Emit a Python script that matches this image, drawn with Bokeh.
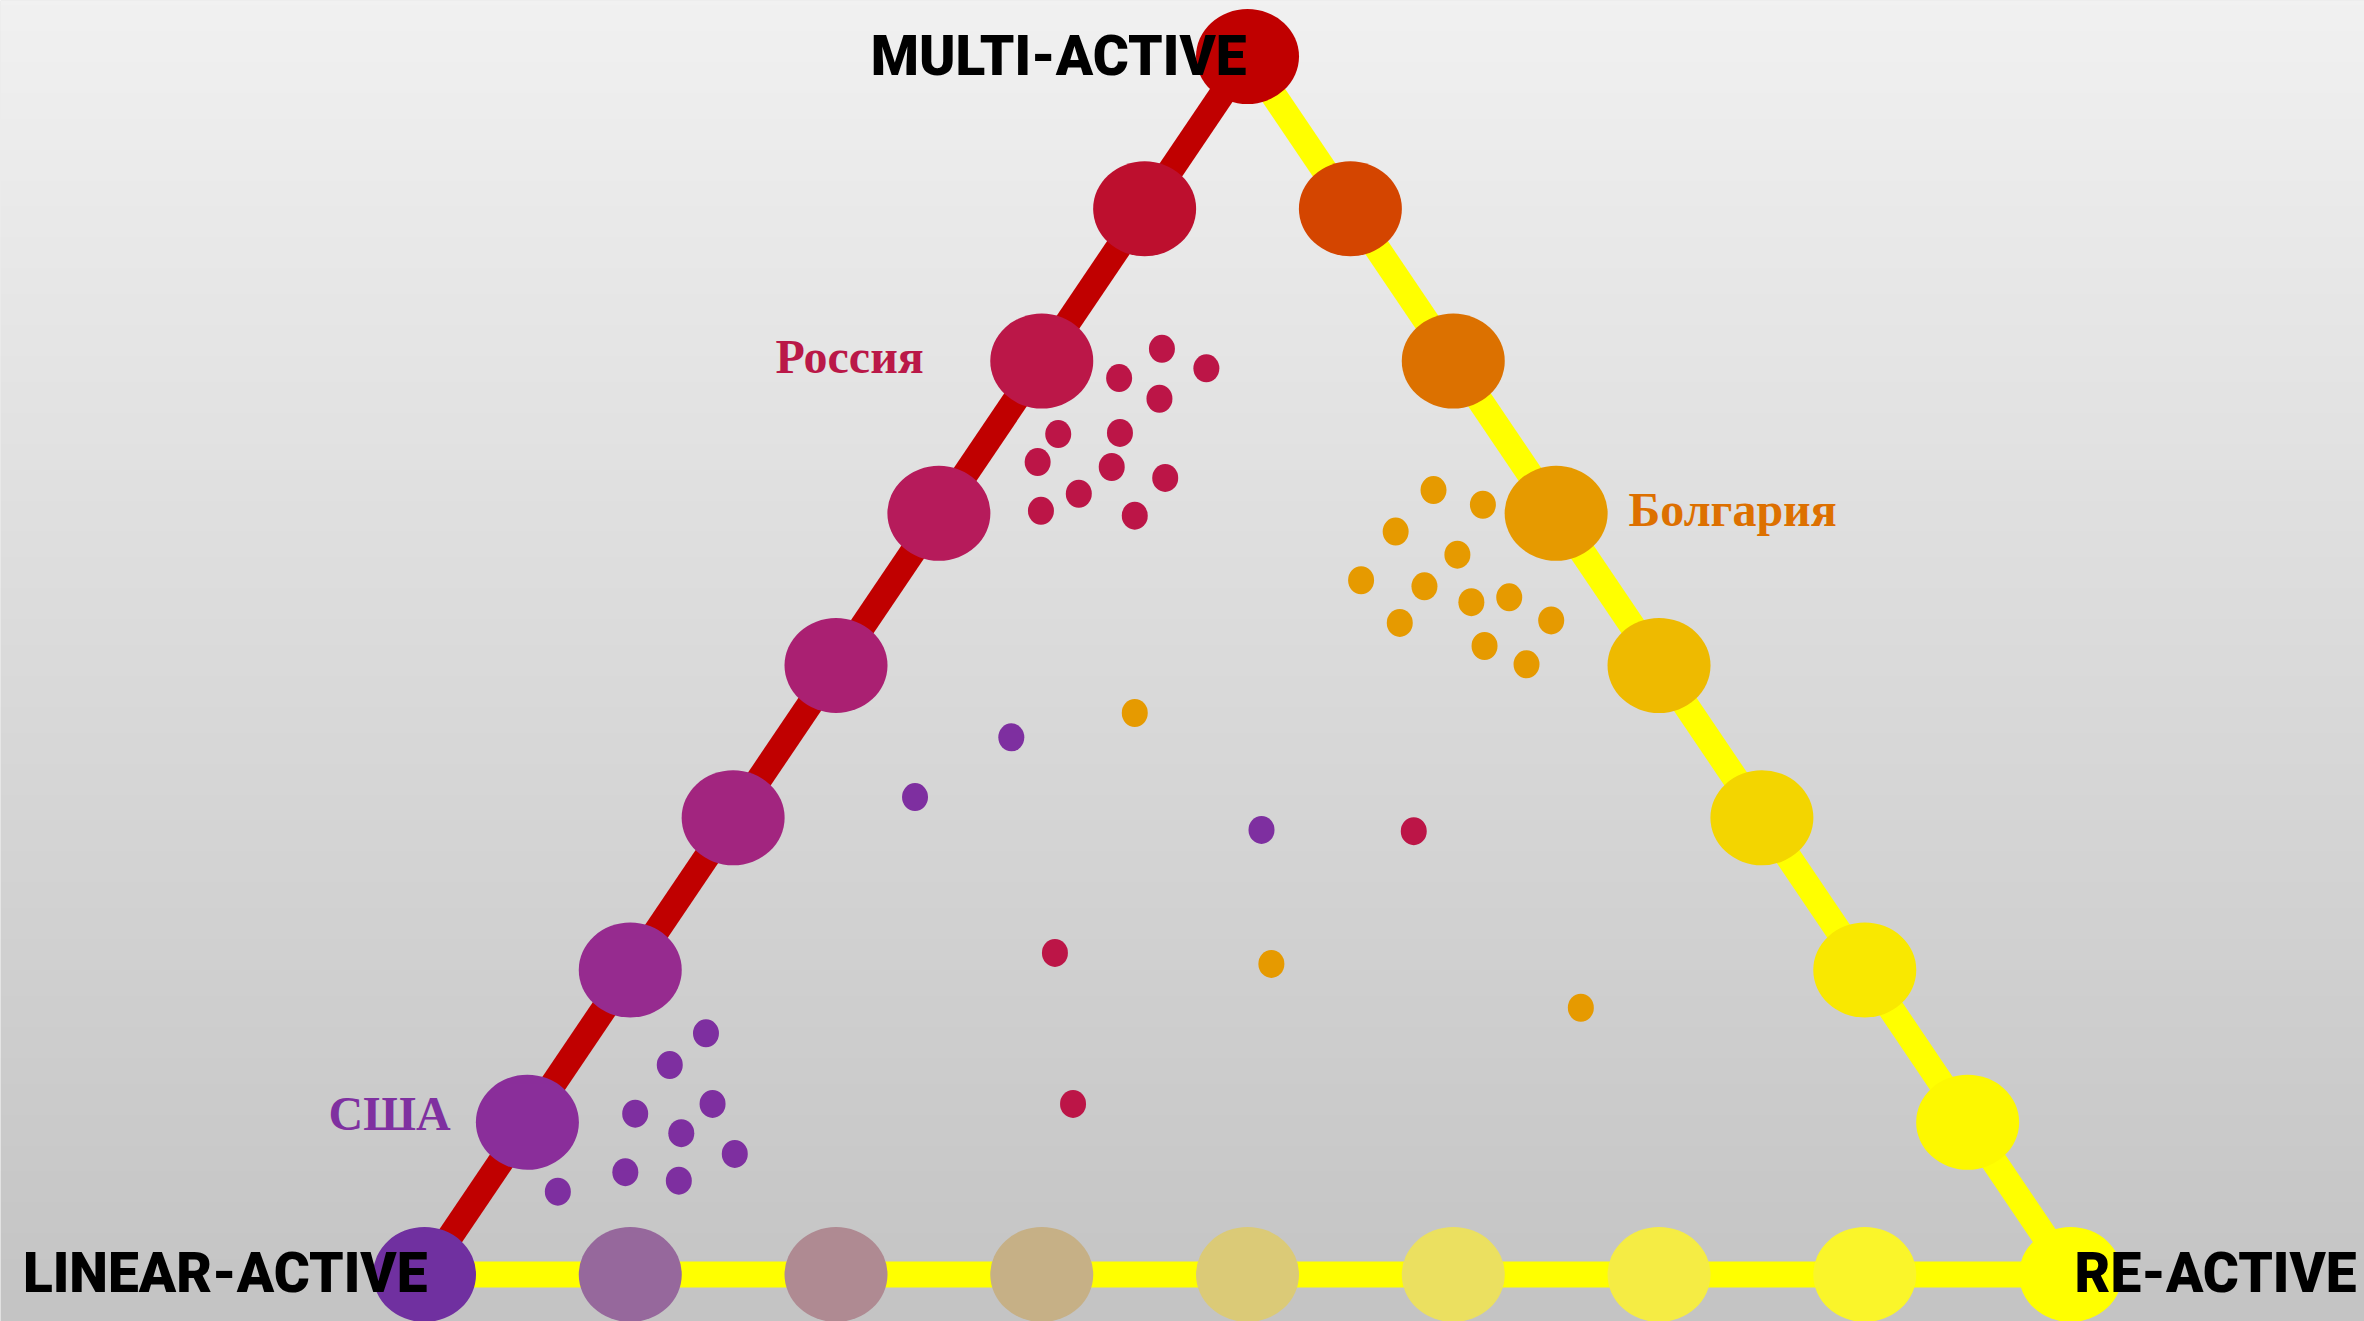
import numpy as np
from bokeh.plotting import figure
from bokeh.models import Range1d
from bokeh.core.properties import value
from bokeh.embed import file_html
from bokeh.resources import INLINE

# ---------------- data ----------------
corner_names = ["LINEAR-ACTIVE", "MULTI-ACTIVE", "RE-ACTIVE"]
steps = [0, 1, 2, 3, 4, 5, 6, 7, 8]          # scale marks per side (eighths)
# marker colours along each side
left_colors = ["#7030A0", "#8A2E9A", "#962B8F", "#A2257F", "#AA2072",
               "#B61B5B", "#BB1748", "#BD0F2E", "#C00000"]      # linear -> multi
right_colors = ["#C00000", "#D44500", "#DC7100", "#E69A00", "#EEBA00",
                "#F3D500", "#F9E800", "#FDF800", "#FFFF00"]     # multi -> re
bottom_colors = ["#7030A0", "#96689C", "#AF8A92", "#C6B086", "#DBCA77",
                 "#EBE060", "#F5EC44", "#FAF52A", "#FFFF00"]    # linear -> re

countries = ["Россия", "Болгария", "США"]
country_colors = ["#BC1547", "#E69A00", "#7E2FA0"]
label_colors = ["#BA1848", "#DD7000", "#7F30A0"]

# respondents: share (%) of multi-active and re-active traits
russia_multi = [76.0, 74.4, 73.6, 71.9, 69.0, 69.1, 66.7, 66.3, 65.4, 64.1, 62.7, 62.3, 36.4, 26.4, 14.0]
russia_re = [6.8, 10.3, 5.4, 8.7, 4.0, 7.7, 3.9, 8.6, 12.3, 7.7, 6.1, 12.0, 41.9, 25.1, 32.4]
bulgaria_multi = [64.4, 63.2, 61.0, 59.1, 57.0, 56.5, 55.2, 55.6, 53.5, 53.7, 51.6, 50.1, 46.1, 25.5, 21.9]
bulgaria_re = [29.1, 32.7, 28.5, 33.2, 28.4, 32.5, 36.0, 38.1, 32.5, 41.6, 38.6, 41.9, 20.1, 38.7, 59.3]
usa_multi = [19.8, 17.2, 13.2, 14.0, 11.6, 9.9, 8.4, 7.7, 6.8, 44.1, 39.2, 36.5]
usa_re = [7.2, 6.3, 6.2, 10.5, 9.8, 13.9, 8.0, 11.6, 4.7, 13.6, 10.2, 32.6]


def to_xy(multi, re):
    """ternary (fractions) -> cartesian: linear (0,0), re (1,0), multi (0.5,1)"""
    multi = np.asarray(multi, float)
    re = np.asarray(re, float)
    return re + multi / 2.0, multi


# ---------------- figure ----------------
W, H = 2364, 1321
X0, X1 = -0.2576, 1.1786
Y0, Y1 = -0.0386, 1.0460
p = figure(width=W, height=H, x_range=Range1d(X0, X1), y_range=Range1d(Y0, Y1),
           output_backend="svg", toolbar_location=None, x_axis_type=None, y_axis_type=None,
           min_border=0, min_border_left=0, min_border_right=0, min_border_top=0, min_border_bottom=0)
p.grid.visible = False
p.outline_line_color = None
p.background_fill_color = "#DADADA"
p.border_fill_color = "#DADADA"

# background gradient (light top, darker bottom)
n = 256
t = np.linspace(0, 1, n)[:, None] * np.ones((1, 2))
top_c, bot_c = 0xF1, 0xC4
g = (bot_c + (top_c - bot_c) * t).astype(np.uint32)
img = (255 << 24) | (g << 16) | (g << 8) | g
p.image_rgba(image=[img.astype(np.uint32)], x=X0, y=Y0, dw=X1 - X0, dh=Y1 - Y0)

# triangle sides
s = np.array(steps) / 8.0
lx, ly = to_xy(s, 0 * s)            # left side (linear -> multi)
rx, ry = to_xy(1 - s, s)            # right side (multi -> re)
bx, by = to_xy(0 * s, s)            # bottom (linear -> re)

p.line([bx[0], bx[-1]], [by[0], by[-1]], line_color="#FFFF00", line_width=26)
p.line([rx[0], rx[-1]], [ry[0], ry[-1]], line_color="#FFFF00", line_width=26)
p.line([lx[0], lx[-1]], [ly[0], ly[-1]], line_color="#C00000", line_width=26)

EW, EH = 103, 95
p.ellipse(x=bx[1:-1], y=by[1:-1], width=EW, height=EH, width_units="screen", height_units="screen",
          fill_color=bottom_colors[1:-1], line_color=None)
p.ellipse(x=rx[1:-1], y=ry[1:-1], width=EW, height=EH, width_units="screen", height_units="screen",
          fill_color=right_colors[1:-1], line_color=None)
p.ellipse(x=lx[1:-1], y=ly[1:-1], width=EW, height=EH, width_units="screen", height_units="screen",
          fill_color=left_colors[1:-1], line_color=None)
# corners
cx = [lx[0], lx[-1], bx[-1]]
cy = [ly[0], ly[-1], by[-1]]
p.ellipse(x=cx, y=cy, width=EW, height=EH, width_units="screen", height_units="screen",
          fill_color=[left_colors[0], left_colors[-1], bottom_colors[-1]], line_color=None)

# respondents
for multi, re, col in [(russia_multi, russia_re, country_colors[0]),
                       (bulgaria_multi, bulgaria_re, country_colors[1]),
                       (usa_multi, usa_re, country_colors[2])]:
    x, y = to_xy(np.array(multi) / 100.0, np.array(re) / 100.0)
    p.ellipse(x=x, y=y, width=26, height=28, width_units="screen", height_units="screen",
              fill_color=col, line_color=None)

# corner labels
heavy = dict(text_font=value("Roboto Black"), text_font_style="normal", text_font_size="55px",
             text_color="black", text_baseline="alphabetic")
p.text(x=[cx[1]], y=[cy[1]], text=[corner_names[1]], text_align="right", x_offset=-1, y_offset=-1, **heavy)
p.text(x=[cx[0]], y=[cy[0]], text=[corner_names[0]], text_align="right", x_offset=3, y_offset=-1, **heavy)
p.text(x=[cx[2]], y=[cy[2]], text=[corner_names[2]], text_align="left", x_offset=4, y_offset=-1, **heavy)

# country labels
lab_x = [0.2132, 0.7315, -0.0583]
lab_y = [0.7397, 0.6141, 0.1182]
p.text(x=lab_x, y=lab_y, text=countries, text_color=label_colors, text_align="left",
       text_baseline="alphabetic", text_font=value("Liberation Serif"), text_font_style="bold",
       text_font_size="48px", y_offset=-17)

open("out.html", "w").write(file_html(p, INLINE))
